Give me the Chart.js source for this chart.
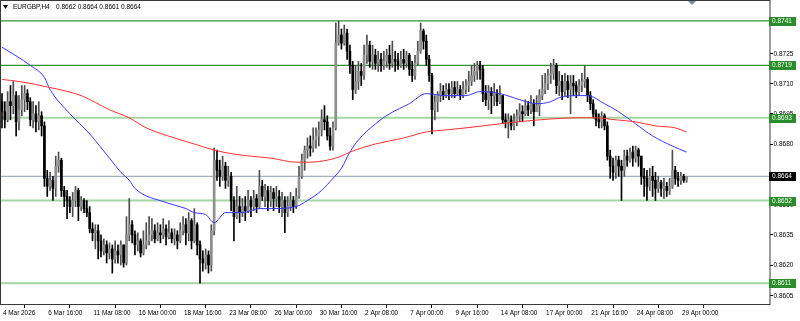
<!DOCTYPE html>
<html>
<head>
<meta charset="utf-8">
<title>EURGBP,H4</title>
<script src="https://cdn.jsdelivr.net/npm/chart.js@4.4.1/dist/chart.umd.min.js"></script>
<style>
  html, body { margin: 0; padding: 0; background: #fff; }
  #wrap { width: 800px; height: 321px; }
</style>
</head>
<body>
<div id="wrap"><canvas id="chart" width="800" height="321"></canvas></div>
<script>
/* =========================
   Data
========================= */

const symbol = "EURGBP,H4";

// one H4 bar per index, 0 = 4 Mar 2026 00:00
const timeTickIdx = [0, 16, 32, 48, 64, 80, 96, 112, 128, 144, 160, 176, 192, 208, 224, 240];
const timeLabels = [
  "4 Mar 2026", "6 Mar 16:00", "11 Mar 08:00", "16 Mar 00:00", "18 Mar 16:00",
  "23 Mar 08:00", "26 Mar 00:00", "30 Mar 16:00", "2 Apr 08:00", "7 Apr 00:00",
  "9 Apr 16:00", "14 Apr 08:00", "17 Apr 00:00", "21 Apr 16:00", "24 Apr 08:00", "29 Apr 00:00"
];

const priceTicks = [0.8605, 0.8620, 0.8635, 0.8650, 0.8665, 0.8680, 0.8695, 0.8710, 0.8725, 0.8740];

// horizontal levels drawn on the chart
const levelValues = [0.8741, 0.8719, 0.8693, 0.8652, 0.8611];
const levelStrong = [true, true, false, false, false];
const currentPrice = 0.8664;

const opens = [
  0.8701,0.8696,0.8692,0.8701,0.8699,0.8704,0.8691,0.8697,0.8702,0.8705,
  0.8701,0.8692,0.8695,0.8691,0.8694,0.8689,0.8663,0.8659,0.8662,0.8658,
  0.8669,0.8672,0.8657,0.8654,0.8652,0.8649,0.8652,0.8657,0.8649,0.8652,
  0.8648,0.8646,0.8638,0.8636,0.8637,0.8632,0.8627,0.8630,0.8626,0.8628,
  0.8623,0.8627,0.8625,0.8630,0.8621,0.8635,0.8640,0.8635,0.8630,0.8632,
  0.8626,0.8630,0.8632,0.8635,0.8637,0.8633,0.8636,0.8635,0.8638,0.8634,
  0.8636,0.8633,0.8635,0.8632,0.8637,0.8640,0.8636,0.8642,0.8632,0.8640,
  0.8630,0.8623,0.8621,0.8625,0.8620,0.8637,0.8672,0.8667,0.8664,0.8669,
  0.8662,0.8664,0.8652,0.8644,0.8649,0.8646,0.8649,0.8647,0.8652,0.8649,
  0.8653,0.8649,0.8659,0.8654,0.8657,0.8652,0.8656,0.8653,0.8654,0.8649,
  0.8652,0.8646,0.8649,0.8652,0.8649,0.8654,0.8664,0.8672,0.8677,0.8679,
  0.8678,0.8682,0.8684,0.8687,0.8692,0.8691,0.8684,0.8679,0.8688,0.8730,
  0.8734,0.8730,0.8735,0.8726,0.8719,0.8707,0.8711,0.8716,0.8714,0.8724,
  0.8729,0.8721,0.8724,0.8720,0.8722,0.8719,0.8721,0.8724,0.8720,0.8722,
  0.8721,0.8719,0.8722,0.8720,0.8724,0.8717,0.8714,0.8720,0.8726,0.8736,
  0.8731,0.8722,0.8714,0.8697,0.8701,0.8704,0.8706,0.8704,0.8707,0.8705,
  0.8708,0.8705,0.8707,0.8704,0.8707,0.8709,0.8711,0.8714,0.8716,0.8719,
  0.8717,0.8705,0.8702,0.8706,0.8704,0.8705,0.8701,0.8704,0.8692,0.8691,
  0.8692,0.8689,0.8691,0.8694,0.8696,0.8695,0.8699,0.8697,0.8700,0.8696,
  0.8699,0.8704,0.8707,0.8710,0.8714,0.8715,0.8719,0.8709,0.8711,0.8706,
  0.8711,0.8707,0.8710,0.8709,0.8706,0.8709,0.8711,0.8712,0.8704,0.8700,
  0.8695,0.8692,0.8691,0.8694,0.8689,0.8674,0.8669,0.8666,0.8672,0.8669,
  0.8667,0.8674,0.8672,0.8676,0.8673,0.8677,0.8674,0.8664,0.8663,0.8659,
  0.8664,0.8662,0.8658,0.8661,0.8658,0.8659,0.8657,0.8659,0.8667,0.8663,
  0.8662,0.8664,0.8662
];

const highs = [
  0.8705,0.8701,0.8706,0.8709,0.8711,0.8706,0.8704,0.8709,0.8709,0.8707,
  0.8703,0.8701,0.8699,0.8701,0.8696,0.8691,0.8667,0.8666,0.8664,0.8674,
  0.8676,0.8673,0.8659,0.8657,0.8654,0.8656,0.8659,0.8658,0.8654,0.8653,
  0.8652,0.8649,0.8641,0.8640,0.8640,0.8635,0.8633,0.8632,0.8631,0.8630,
  0.8632,0.8630,0.8632,0.8630,0.8644,0.8653,0.8642,0.8637,0.8636,0.8633,
  0.8637,0.8641,0.8644,0.8643,0.8640,0.8641,0.8640,0.8643,0.8640,0.8642,
  0.8638,0.8638,0.8637,0.8641,0.8644,0.8643,0.8646,0.8643,0.8648,0.8641,
  0.8632,0.8627,0.8628,0.8627,0.8640,0.8678,0.8677,0.8672,0.8674,0.8671,
  0.8669,0.8666,0.8654,0.8659,0.8654,0.8653,0.8654,0.8657,0.8654,0.8657,
  0.8655,0.8667,0.8662,0.8660,0.8659,0.8659,0.8658,0.8659,0.8657,0.8656,
  0.8654,0.8654,0.8656,0.8654,0.8658,0.8669,0.8675,0.8679,0.8683,0.8684,
  0.8688,0.8688,0.8691,0.8697,0.8699,0.8694,0.8688,0.8691,0.8740,0.8741,
  0.8737,0.8739,0.8737,0.8729,0.8721,0.8719,0.8721,0.8720,0.8729,0.8734,
  0.8731,0.8729,0.8727,0.8726,0.8725,0.8726,0.8727,0.8729,0.8731,0.8726,
  0.8725,0.8726,0.8727,0.8726,0.8725,0.8721,0.8724,0.8731,0.8740,0.8737,
  0.8734,0.8724,0.8715,0.8704,0.8706,0.8710,0.8709,0.8710,0.8710,0.8711,
  0.8711,0.8711,0.8709,0.8711,0.8712,0.8716,0.8719,0.8720,0.8721,0.8721,
  0.8719,0.8709,0.8709,0.8708,0.8710,0.8707,0.8709,0.8704,0.8695,0.8695,
  0.8694,0.8695,0.8697,0.8700,0.8699,0.8702,0.8701,0.8704,0.8702,0.8704,
  0.8707,0.8714,0.8715,0.8717,0.8720,0.8722,0.8720,0.8716,0.8714,0.8715,
  0.8714,0.8714,0.8714,0.8711,0.8712,0.8715,0.8719,0.8713,0.8706,0.8702,
  0.8697,0.8695,0.8696,0.8695,0.8691,0.8677,0.8673,0.8674,0.8674,0.8672,
  0.8677,0.8677,0.8678,0.8679,0.8679,0.8678,0.8674,0.8668,0.8667,0.8668,
  0.8669,0.8666,0.8664,0.8662,0.8663,0.8661,0.8663,0.8677,0.8669,0.8666,
  0.8666,0.8665,0.8664
];

const lows = [
  0.8688,0.8688,0.8691,0.8692,0.8695,0.8684,0.8687,0.8694,0.8696,0.8697,
  0.8689,0.8688,0.8686,0.8687,0.8684,0.8659,0.8654,0.8657,0.8652,0.8654,
  0.8666,0.8654,0.8649,0.8643,0.8646,0.8644,0.8649,0.8642,0.8647,0.8646,
  0.8644,0.8636,0.8632,0.8628,0.8623,0.8624,0.8625,0.8621,0.8623,0.8616,
  0.8621,0.8621,0.8620,0.8619,0.8620,0.8632,0.8631,0.8625,0.8627,0.8624,
  0.8625,0.8628,0.8630,0.8632,0.8631,0.8632,0.8631,0.8633,0.8630,0.8633,
  0.8631,0.8630,0.8628,0.8631,0.8635,0.8630,0.8632,0.8628,0.8631,0.8625,
  0.8611,0.8617,0.8618,0.8616,0.8617,0.8635,0.8662,0.8659,0.8662,0.8658,
  0.8659,0.8647,0.8632,0.8643,0.8641,0.8644,0.8642,0.8646,0.8644,0.8647,
  0.8646,0.8648,0.8652,0.8649,0.8647,0.8649,0.8647,0.8649,0.8646,0.8644,
  0.8636,0.8644,0.8647,0.8646,0.8648,0.8653,0.8663,0.8667,0.8673,0.8674,
  0.8676,0.8678,0.8679,0.8684,0.8687,0.8682,0.8677,0.8677,0.8687,0.8729,
  0.8727,0.8729,0.8722,0.8715,0.8702,0.8705,0.8707,0.8709,0.8712,0.8720,
  0.8718,0.8717,0.8717,0.8716,0.8716,0.8717,0.8718,0.8717,0.8718,0.8716,
  0.8717,0.8718,0.8717,0.8718,0.8714,0.8711,0.8712,0.8719,0.8725,0.8727,
  0.8719,0.8711,0.8685,0.8692,0.8696,0.8701,0.8702,0.8703,0.8702,0.8703,
  0.8703,0.8704,0.8702,0.8703,0.8705,0.8706,0.8709,0.8711,0.8712,0.8712,
  0.8701,0.8699,0.8697,0.8695,0.8699,0.8699,0.8700,0.8690,0.8688,0.8683,
  0.8687,0.8687,0.8689,0.8691,0.8691,0.8694,0.8694,0.8695,0.8689,0.8696,
  0.8694,0.8702,0.8705,0.8707,0.8710,0.8712,0.8705,0.8704,0.8702,0.8704,
  0.8703,0.8695,0.8704,0.8703,0.8704,0.8706,0.8708,0.8701,0.8697,0.8693,
  0.8689,0.8688,0.8688,0.8687,0.8672,0.8663,0.8662,0.8663,0.8664,0.8652,
  0.8664,0.8669,0.8671,0.8669,0.8671,0.8669,0.8660,0.8654,0.8652,0.8657,
  0.8654,0.8652,0.8656,0.8654,0.8653,0.8654,0.8655,0.8658,0.8660,0.8659,
  0.8660,0.8661,0.8661
];

const closes = [
  0.8696,0.8692,0.8701,0.8699,0.8704,0.8691,0.8697,0.8702,0.8705,0.8701,
  0.8692,0.8695,0.8691,0.8694,0.8689,0.8663,0.8659,0.8662,0.8658,0.8669,
  0.8672,0.8657,0.8654,0.8652,0.8649,0.8652,0.8657,0.8649,0.8652,0.8648,
  0.8646,0.8638,0.8636,0.8637,0.8632,0.8627,0.8630,0.8626,0.8628,0.8623,
  0.8627,0.8625,0.8630,0.8621,0.8635,0.8640,0.8635,0.8630,0.8632,0.8626,
  0.8630,0.8632,0.8635,0.8637,0.8633,0.8636,0.8635,0.8638,0.8634,0.8636,
  0.8633,0.8635,0.8632,0.8637,0.8640,0.8636,0.8642,0.8632,0.8640,0.8630,
  0.8623,0.8621,0.8625,0.8620,0.8637,0.8672,0.8667,0.8664,0.8669,0.8662,
  0.8664,0.8652,0.8644,0.8649,0.8646,0.8649,0.8647,0.8652,0.8649,0.8653,
  0.8649,0.8659,0.8654,0.8657,0.8652,0.8656,0.8653,0.8654,0.8649,0.8652,
  0.8646,0.8649,0.8652,0.8649,0.8654,0.8664,0.8672,0.8677,0.8679,0.8678,
  0.8682,0.8684,0.8687,0.8692,0.8691,0.8684,0.8679,0.8688,0.8730,0.8734,
  0.8730,0.8735,0.8726,0.8719,0.8707,0.8711,0.8716,0.8714,0.8724,0.8729,
  0.8721,0.8724,0.8720,0.8722,0.8719,0.8721,0.8724,0.8720,0.8722,0.8721,
  0.8719,0.8722,0.8720,0.8724,0.8717,0.8714,0.8720,0.8726,0.8736,0.8731,
  0.8722,0.8714,0.8697,0.8701,0.8704,0.8706,0.8704,0.8707,0.8705,0.8708,
  0.8705,0.8707,0.8704,0.8707,0.8709,0.8711,0.8714,0.8716,0.8719,0.8717,
  0.8705,0.8702,0.8706,0.8704,0.8705,0.8701,0.8704,0.8692,0.8691,0.8692,
  0.8689,0.8691,0.8694,0.8696,0.8695,0.8699,0.8697,0.8700,0.8696,0.8699,
  0.8704,0.8707,0.8710,0.8714,0.8715,0.8719,0.8709,0.8711,0.8706,0.8711,
  0.8707,0.8710,0.8709,0.8706,0.8709,0.8711,0.8712,0.8704,0.8700,0.8695,
  0.8692,0.8691,0.8694,0.8689,0.8674,0.8669,0.8666,0.8672,0.8669,0.8667,
  0.8674,0.8672,0.8676,0.8673,0.8677,0.8674,0.8664,0.8663,0.8659,0.8664,
  0.8662,0.8658,0.8661,0.8658,0.8659,0.8657,0.8659,0.8667,0.8663,0.8662,
  0.8664,0.8662,0.8664
];

// moving averages, sampled along the drawn curves (bar index / price)
const maFastIdx = [0, 10, 15, 17, 24, 31, 38, 42, 45, 47, 58, 65, 68, 72, 75, 79, 82, 85, 91, 96,
  104, 108, 113, 117, 120, 123, 126, 132, 137, 144, 150, 157, 164, 169, 176, 183, 189, 194, 197,
  204, 207, 213, 218, 224, 230, 237, 242];
const maFast = [0.8728, 0.8719, 0.8713, 0.8707, 0.8695, 0.8685, 0.8673, 0.8666, 0.8662, 0.8658,
  0.8651, 0.8648, 0.8646, 0.8645, 0.8641, 0.8646, 0.8646, 0.8646, 0.8648, 0.8648,
  0.8649, 0.8652, 0.8657, 0.8663, 0.8668, 0.8676, 0.8682, 0.8690, 0.8695, 0.8700,
  0.8705, 0.8704, 0.8704, 0.8706, 0.8705, 0.8702, 0.8700, 0.8701, 0.8703,
  0.8704, 0.8704, 0.8700, 0.8696, 0.8690, 0.8684, 0.8679, 0.8676];

const maSlowIdx = [0, 6, 17, 28, 38, 45, 51, 61, 68, 75, 82, 88, 95, 104, 109, 115, 120, 123, 132,
  142, 150, 157, 164, 176, 190, 204, 210, 217, 224, 231, 238, 242];
const maSlow = [0.8712, 0.8711, 0.8708, 0.8704, 0.8697, 0.8693, 0.8688, 0.8683, 0.8680, 0.8677,
  0.8675, 0.8674, 0.8673, 0.8671, 0.8671, 0.8672, 0.8674, 0.8676, 0.8680,
  0.8683, 0.8686, 0.8687, 0.8688, 0.8690, 0.8692, 0.8693, 0.8693, 0.8692, 0.8691, 0.8689, 0.8688, 0.8686];

/* =========================
   Helpers
========================= */

const FONT = "6.5px 'Liberation Sans', Arial, sans-serif";

function squeezeText(ctx, text, x, y, sx, color) {
  ctx.save();
  ctx.translate(x, y);
  ctx.scale(sx, 1);
  ctx.font = FONT;
  ctx.fillStyle = color;
  ctx.textAlign = "left";
  ctx.textBaseline = "middle";
  ctx.fillText(text, 0, 0);
  ctx.restore();
}

function priceBox(ctx, y, text, bg, fg) {
  const cy = Math.round(y);
  ctx.fillStyle = bg;
  ctx.fillRect(769, cy - 4, 27, 9);
  squeezeText(ctx, text, 772, cy + 0.5, 1, fg);
}

const isUp = (i) => closes[i] >= opens[i];

/* =========================
   Decorations (MT style frame, labels)
========================= */

const mtDecor = {
  id: "mtDecor",
  beforeDraw(chart) {
    const { ctx } = chart;
    ctx.save();
    ctx.fillStyle = "#fff";
    ctx.fillRect(0, 0, chart.width, chart.height);
    ctx.restore();
  },
  afterDraw(chart) {
    const { ctx, chartArea } = chart;
    const xs = chart.scales.x;
    const ys = chart.scales.y;
    ctx.save();

    // frame
    ctx.strokeStyle = "#3a3a3a";
    ctx.lineWidth = 1;
    ctx.strokeRect(0.5, 0.5, Math.round(chartArea.right) - 0.5, Math.round(chartArea.bottom));

    // price scale labels
    ys.ticks.forEach((t) => {
      const py = ys.getPixelForValue(t.value);
      squeezeText(ctx, t.value.toFixed(4), 773.5, py + 0.5, 1, "#000");
    });

    // level boxes + current price box
    levelValues.forEach((v) => priceBox(ctx, ys.getPixelForValue(v), v.toFixed(4), "#2c8c2c", "#f0fff0"));
    priceBox(ctx, ys.getPixelForValue(currentPrice), currentPrice.toFixed(4), "#000", "#fff");

    // time labels
    timeTickIdx.forEach((v, k) => {
      const px = xs.getPixelForValue(v);
      squeezeText(ctx, timeLabels[k], px + 1, 313, 0.98, "#000");
    });

    // header
    const n = closes.length - 1;
    ctx.fillStyle = "#000";
    ctx.beginPath();
    ctx.moveTo(3, 5); ctx.lineTo(8, 5); ctx.lineTo(5.5, 9); ctx.closePath();
    ctx.fill();
    const ohlc = [opens[n], highs[n], lows[n], closes[n]].map((v) => v.toFixed(4)).join(" ");
    squeezeText(ctx, symbol, 13, 7.5, 1, "#000");
    squeezeText(ctx, ohlc, 56, 7.5, 1, "#000");

    // chart shift marker
    ctx.fillStyle = "#7d8c9c";
    ctx.beginPath();
    ctx.moveTo(688, 1); ctx.lineTo(696, 1); ctx.lineTo(692, 5); ctx.closePath();
    ctx.fill();

    ctx.restore();
  }
};

/* =========================
   Chart
========================= */

const idx = closes.map((_, i) => i);

const levelSets = levelValues.map((v, k) => ({
  type: "line",
  data: [{ x: -1, y: v }, { x: 280, y: v }],
  borderColor: levelStrong[k] ? "#2f962f" : "#a4d6a4",
  borderWidth: levelStrong[k] ? 1.2 : 2,
  pointRadius: 0,
  order: 4
}));

const datasets = [
  {
    type: "line",
    label: "MA slow",
    data: maSlowIdx.map((x, k) => ({ x, y: maSlow[k] })),
    borderColor: "#ff3030",
    borderWidth: 1,
    pointRadius: 0,
    cubicInterpolationMode: "monotone",
    order: 0
  },
  {
    type: "line",
    label: "MA fast",
    data: maFastIdx.map((x, k) => ({ x, y: maFast[k] })),
    borderColor: "#3838ff",
    borderWidth: 1,
    pointRadius: 0,
    cubicInterpolationMode: "monotone",
    order: 0
  },
  {
    type: "bar",
    label: "body",
    data: idx.map((i) => ({ x: i, y: [opens[i], closes[i]] })),
    backgroundColor: idx.map((i) => (isUp(i) ? "#8e8e8e" : "#000")),
    borderWidth: 0,
    barThickness: 2,
    minBarLength: 1,
    grouped: false,
    order: 1
  },
  {
    type: "bar",
    label: "wick",
    data: idx.map((i) => ({ x: i, y: [lows[i], highs[i]] })),
    backgroundColor: idx.map((i) => (isUp(i) ? "#4e4e4e" : "#000")),
    borderWidth: 0,
    barThickness: 1,
    grouped: false,
    order: 2
  },
  {
    type: "line",
    label: "price",
    data: [{ x: -1, y: currentPrice }, { x: 280, y: currentPrice }],
    borderColor: "#8c9cb0",
    borderWidth: 1,
    pointRadius: 0,
    order: 3
  },
  ...levelSets
];

new Chart(document.getElementById("chart"), {
  type: "bar",
  data: { datasets },
  options: {
    responsive: false,
    devicePixelRatio: 1,
    animation: false,
    layout: { padding: { top: 1, left: 1, right: 0, bottom: 0 } },
    plugins: { legend: { display: false }, tooltip: { enabled: false } },
    scales: {
      x: {
        type: "linear",
        position: "bottom",
        min: -0.35,
        max: 271.5,
        offset: false,
        border: { display: false },
        grid: { display: true, drawOnChartArea: false, drawTicks: true, tickLength: 4, color: "#000" },
        ticks: { display: false },
        afterBuildTicks: (s) => { s.ticks = timeTickIdx.map((v) => ({ value: v })); },
        afterFit: (s) => { s.height = 17; }
      },
      y: {
        type: "linear",
        position: "right",
        min: 0.86007,
        max: 0.87509,
        border: { display: false },
        grid: { display: true, drawOnChartArea: false, drawTicks: true, tickLength: 3, color: "#000" },
        ticks: { display: false },
        afterBuildTicks: (s) => { s.ticks = priceTicks.map((v) => ({ value: v })); },
        afterFit: (s) => { s.width = 30; }
      }
    }
  },
  plugins: [mtDecor]
});
</script>
</body>
</html>
